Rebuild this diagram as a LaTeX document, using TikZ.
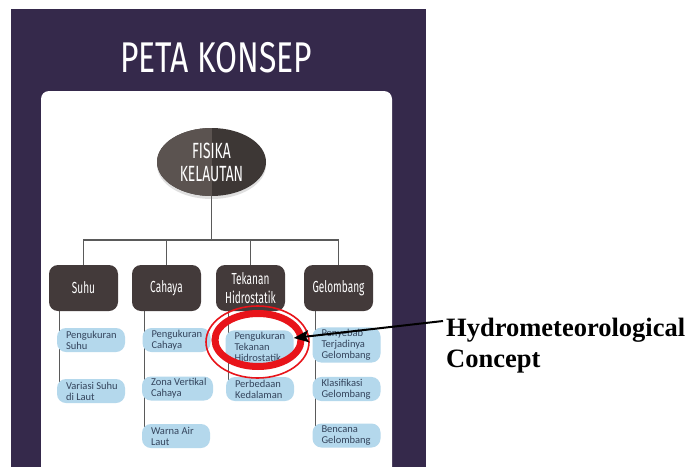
\documentclass[tikz,border=0pt]{standalone}
\usepackage{fontspec}
\setmainfont{Liberation Serif}
\newfontfamily\handfont[FakeStretch=0.63]{Fira Sans}
\newfontfamily\titlefont[FakeStretch=0.74]{Fira Sans}
\newfontfamily\itemfont{Carlito}
\usetikzlibrary{arrows.meta,shapes.geometric,shadows}
\definecolor{panel}{HTML}{35294B}
\definecolor{catc}{HTML}{433A3A}
\definecolor{rootL}{HTML}{5B5350}
\definecolor{rootR}{HTML}{3D3735}
\definecolor{itemc}{HTML}{B4D8EC}
\definecolor{itemtxt}{HTML}{34445C}
\definecolor{linec}{HTML}{5A5A5A}
\definecolor{ringred}{HTML}{E8141A}
\pgfdeclarelayer{back}
\pgfdeclarelayer{mid}
\pgfsetlayers{back,mid,main}
\tikzset{
  catbox/.style={rounded corners=9pt, fill=catc, minimum width=69pt, minimum height=46pt,
    inner sep=0pt, text=white, font=\handfont\fontsize{16}{19}\selectfont, align=center},
  itembox/.style={rounded corners=9pt, fill=itemc, minimum height=24pt, inner xsep=9pt,
    inner ysep=2pt, text width=50pt, text=itemtxt, font=\itemfont\fontsize{10.5}{11}\selectfont, align=flush left},
  conn/.style={draw=linec, line width=1.3pt},
}
\begin{document}
\begin{tikzpicture}[x=1pt,y=-1pt]
\useasboundingbox (0,0) rectangle (688,466);
\begin{pgfonlayer}{back}
  \begin{scope}
    \clip (0,0) rectangle (688,466);
    \fill[panel] (11,9) rectangle (426,480);
    \fill[white, rounded corners=8pt] (41,91) rectangle (392,490);
  \end{scope}
\end{pgfonlayer}

% title
\node[text=white, font=\titlefont\fontsize{43}{43}\selectfont, inner sep=0pt] (title) at (216,58) {PETA KONSEP};

% root
\node[ellipse, minimum width=109pt, minimum height=68pt, inner sep=0pt, fill=rootR,
  drop shadow={opacity=0.25, shadow xshift=0pt, shadow yshift=-3pt},
  path picture={\fill[rootL] (path picture bounding box.north west) rectangle (path picture bounding box.south);},
  text=white, align=center, font=\handfont\fontsize{22}{23}\selectfont] (root) at (211.5,162) {FISIKA\\KELAUTAN};

% categories
\node[catbox] (c1) at (83.5,288) {Suhu};
\node[catbox] (c2) at (166.5,288) {Cahaya};
\node[catbox] (c3) at (250.5,288) {Tekanan\\Hidrostatik};
\node[catbox] (c4) at (338.5,288) {Gelombang};
\coordinate (j) at (211.5,240);

% items
\node[itembox] (s1) at (91,340) {Pengukuran\\Suhu};
\node[itembox] (s2) at (91,391) {\mbox{Variasi Suhu}\\di Laut};
\node[itembox] (h1) at (176.5,340) {Pengukuran\\Cahaya};
\node[itembox, text width=53pt] (h2) at (177.5,388.5) {\mbox{Zona Vertikal}\\Cahaya};
\node[itembox] (h3) at (176,436) {Warna Air\\Laut};
\node[itembox] (t1) at (259.5,347) {Pengukuran\\Tekanan\\Hidrostatik};
\node[itembox] (t2) at (260,389) {Perbedaan\\Kedalaman};
\node[itembox] (g1) at (346.5,345) {Penyebab\\Terjadinya\\Gelombang};
\node[itembox] (g2) at (346.5,389) {Klasifikasi\\Gelombang};
\node[itembox] (g3) at (346.5,435.5) {Bencana\\Gelombang};

% connectors
\begin{pgfonlayer}{mid}
  \draw[conn] (root.south) -- (j);
  \draw[conn] (c1.north) -- (c1.north |- j) -- (c4.north |- j) -- (c4.north);
  \draw[conn] (c2.north) -- (c2.north |- j);
  \draw[conn] (c3.north) -- (c3.north |- j);
  \draw[conn] ([xshift=11pt]c1.south west) -- ([xshift=11pt]c1.south west |- s2.center);
  \draw[conn] ([xshift=13pt]c2.south west) -- ([xshift=13pt]c2.south west |- h3.center);
  \draw[conn] ([xshift=13pt]c3.south west) -- ([xshift=13pt]c3.south west |- t2.center);
  \draw[conn] ([xshift=12pt]c4.south west) -- ([xshift=12pt]c4.south west |- g3.center);
\end{pgfonlayer}

% highlight rings
\draw[ringred, line width=1.6pt] (257.5,342) ellipse [x radius=51.5, y radius=36];
\draw[ringred, line width=7pt] (258,340) ellipse [x radius=43, y radius=26.5];

% label and arrow
\node[anchor=north west, inner sep=0pt, align=left, font=\bfseries\fontsize{26.5}{31}\selectfont] (lbl) at (446,317.6) {Hydrometeorological\\Concept};
\draw[line width=2pt, -{Stealth[length=15pt, width=12pt, inset=3pt]}] ([shift={(-3,3.4)}]lbl.north west) -- ([yshift=9pt]t1.east);
\end{tikzpicture}
\end{document}
